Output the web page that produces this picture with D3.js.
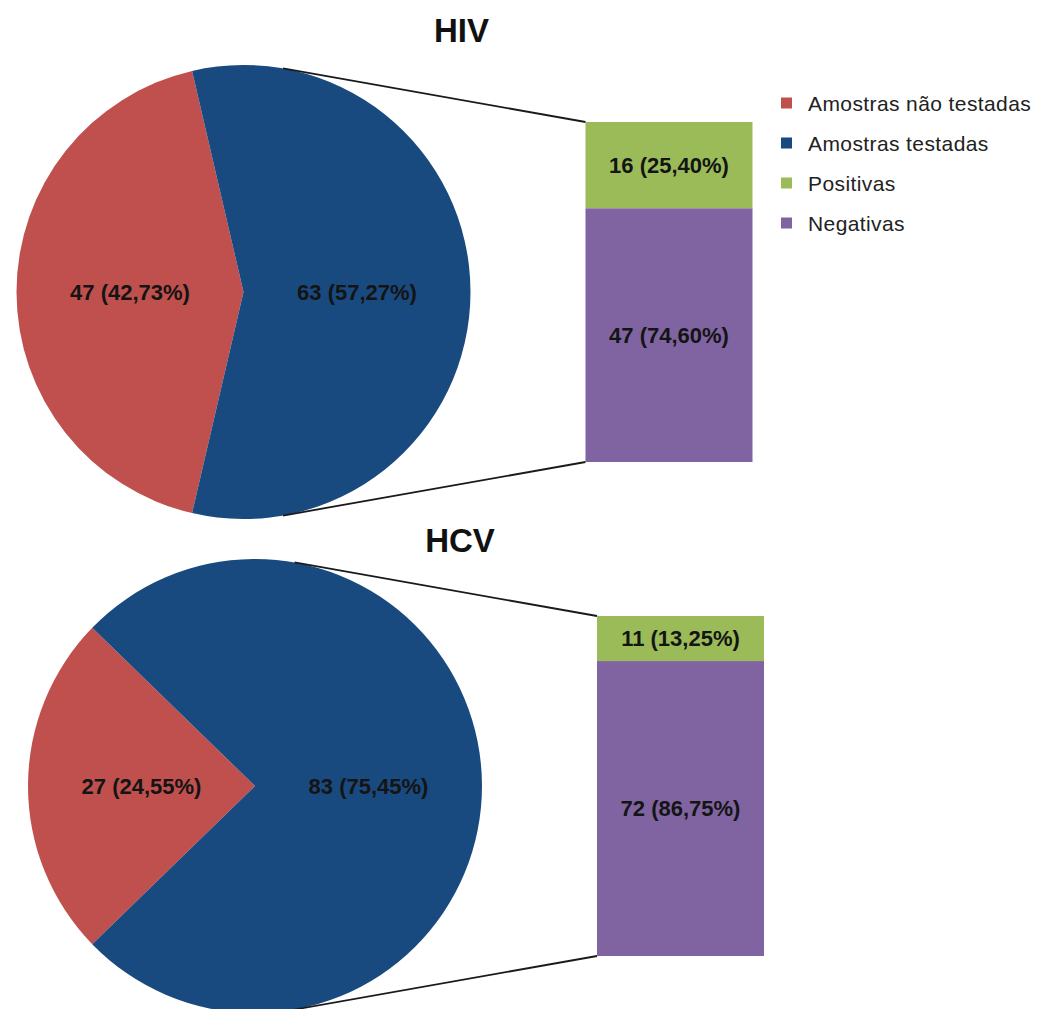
<!DOCTYPE html>
<html>
<head>
<meta charset="utf-8">
<script src="https://cdn.jsdelivr.net/npm/d3@7"></script>
<style>
  html, body { margin: 0; padding: 0; background: #ffffff; }
  svg { display: block; }
  text { font-family: "Liberation Sans", Arial, Helvetica, sans-serif; }
</style>
</head>
<body>
<svg id="chart" width="1044" height="1009"></svg>
<script>
// ---- data ----
const groups = ["HIV", "HCV"];
const pieCategories = ["Amostras não testadas", "Amostras testadas"];
const barCategories = ["Positivas", "Negativas"];
const hivPieValues = [47, 63];
const hcvPieValues = [27, 83];
const hivBarValues = [16, 47];
const hcvBarValues = [11, 72];
const legendLabels = ["Amostras não testadas", "Amostras testadas", "Positivas", "Negativas"];
const colors = ["#C0504D", "#194A7F", "#9BBB59", "#8064A2"];

// ---- layout ----
const radius = 227;
const barOffset = 342, barWidth = 167, barHeight = 340;
const layouts = [
  { title: groups[0], pie: hivPieValues, bar: hivBarValues, cx: 243.5, cy: 292, titleX: 461.5, titleY: 42 },
  { title: groups[1], pie: hcvPieValues, bar: hcvBarValues, cx: 255, cy: 786, titleX: 460, titleY: 552 }
];

const svg = d3.select("#chart");
const fmtPct = v => d3.format(".2f")(v).replace(".", ",") + "%";
const pieColor = d3.scaleOrdinal().domain(pieCategories).range(colors.slice(0, 2));
const barColor = d3.scaleOrdinal().domain(barCategories).range(colors.slice(2, 4));

layouts.forEach(L => {
  const g = svg.append("g");
  const total = d3.sum(L.pie);
  const redAngle = 2 * Math.PI * L.pie[0] / total;
  const start = 1.5 * Math.PI - redAngle / 2;
  const pie = d3.pie().sort(null).startAngle(start).endAngle(start + 2 * Math.PI);
  const arcs = pie(L.pie).map((a, i) => Object.assign(a, { cat: pieCategories[i] }));
  const arc = d3.arc().innerRadius(0).outerRadius(radius);
  const pg = g.append("g").attr("transform", `translate(${L.cx},${L.cy})`);
  pg.selectAll("path").data(arcs).join("path")
    .attr("d", arc)
    .attr("fill", d => pieColor(d.cat));
  pg.selectAll("text").data(arcs).join("text")
    .attr("x", d => arc.centroid(d)[0])
    .attr("y", d => arc.centroid(d)[1])
    .attr("text-anchor", "middle")
    .attr("dominant-baseline", "central")
    .attr("font-size", 22)
    .attr("font-weight", "bold")
    .attr("fill", "#141414")
    .text(d => `${d.value} (${fmtPct(100 * d.value / total)})`);

  // bar
  const barTotal = d3.sum(L.bar);
  const bx = L.cx + barOffset;
  const by0 = L.cy - barHeight / 2;
  const y = d3.scaleLinear().domain([0, barTotal]).range([by0, by0 + barHeight]);
  const stacked = [];
  let acc = 0;
  L.bar.forEach((v, i) => { stacked.push({ cat: barCategories[i], v, y0: acc, y1: acc + v }); acc += v; });
  g.selectAll("rect.seg").data(stacked).join("rect")
    .attr("class", "seg")
    .attr("x", bx)
    .attr("y", d => y(d.y0))
    .attr("width", barWidth)
    .attr("height", d => y(d.y1) - y(d.y0))
    .attr("fill", d => barColor(d.cat));
  g.selectAll("text.seg").data(stacked).join("text")
    .attr("class", "seg")
    .attr("x", bx + barWidth / 2)
    .attr("y", d => (y(d.y0) + y(d.y1)) / 2)
    .attr("text-anchor", "middle")
    .attr("dominant-baseline", "central")
    .attr("font-size", 22)
    .attr("font-weight", "bold")
    .attr("fill", "#141414")
    .text(d => `${d.v} (${fmtPct(100 * d.v / barTotal)})`);

  // connector lines (tangent from bar corners to pie)
  const corners = [[bx, y(0), -1], [bx, y(barTotal), 1]];
  corners.forEach(([px, py, s]) => {
    const dx = px - L.cx, dy = py - L.cy;
    const d = Math.hypot(dx, dy);
    const phi = Math.atan2(dy, dx) + s * Math.acos(radius / d);
    const tx = L.cx + radius * Math.cos(phi), ty = L.cy + radius * Math.sin(phi);
    g.append("line")
      .attr("x1", tx).attr("y1", ty).attr("x2", px).attr("y2", py)
      .attr("stroke", "#1a1a1a").attr("stroke-width", 1.8);
  });

  // title
  g.append("text")
    .attr("x", L.titleX).attr("y", L.titleY)
    .attr("text-anchor", "middle")
    .attr("font-size", 33)
    .attr("font-weight", "bold")
    .attr("fill", "#111")
    .text(L.title);
});

// legend
const legend = svg.append("g");
const ly = d3.scalePoint().domain(legendLabels).range([103, 223]);
const lg = legend.selectAll("g").data(legendLabels).join("g")
  .attr("transform", d => `translate(0,${ly(d)})`);
lg.append("rect")
  .attr("x", 781).attr("y", -5.5).attr("width", 11).attr("height", 11)
  .attr("fill", (d, i) => colors[i]);
lg.append("text")
  .attr("x", 808).attr("y", 0)
  .attr("dominant-baseline", "central")
  .attr("font-size", 21)
  .attr("letter-spacing", 0.4)
  .attr("fill", "#222")
  .text(d => d);
</script>
</body>
</html>
